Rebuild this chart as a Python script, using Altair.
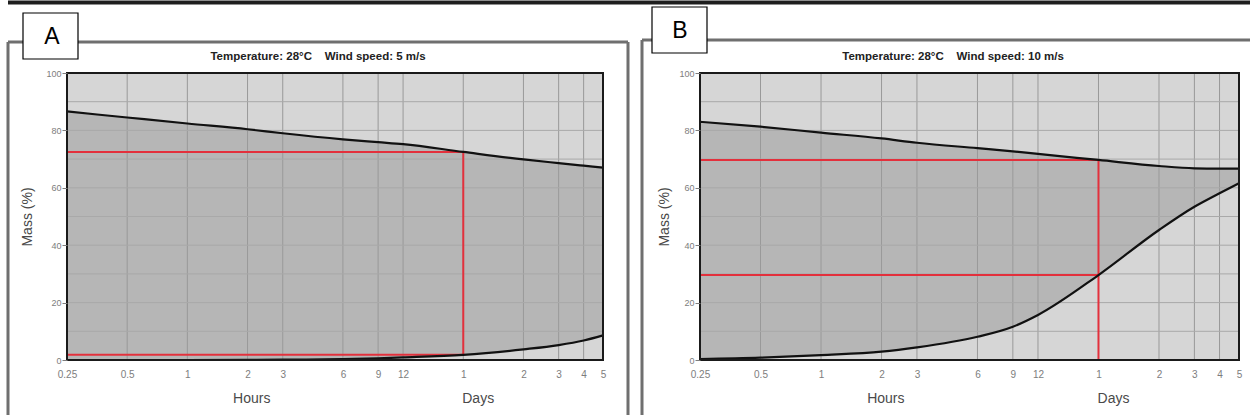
import altair as alt
import pandas as pd

# ---------------- data ----------------
time_h = [0.25, 0.5, 1, 2, 3, 6, 9, 12, 24, 48, 72, 96, 120]
a_upper = [86.6, 84.5, 82.4, 80.4, 79.0, 76.9, 75.9, 75.2, 72.5, 69.9, 68.6, 67.7, 67.0]
a_lower = [0.0, 0.0, 0.0, 0.05, 0.1, 0.3, 0.6, 0.9, 1.8, 3.7, 5.2, 6.8, 8.6]
b_upper = [83.0, 81.3, 79.2, 77.2, 75.7, 73.8, 72.7, 71.8, 69.7, 67.6, 66.8, 66.7, 66.7]
b_lower = [0.3, 0.8, 1.7, 2.9, 4.4, 8.1, 11.6, 15.7, 29.6, 45.3, 53.4, 58.1, 61.6]

x_tick_values = [0.25, 0.5, 1, 2, 3, 6, 9, 12, 24, 48, 72, 96, 120]
x_grid_values = [0.5, 1, 2, 3, 6, 9, 12, 24, 48, 72, 96]
y_tick_values = [0, 20, 40, 60, 80, 100]
y_grid_values = [10, 20, 30, 40, 50, 60, 70, 80, 90]

NB = "\u00a0"
a_title = "Temperature: 28°C" + NB * 4 + "Wind speed: 5 m/s"
b_title = "Temperature: 28°C" + NB * 4 + "Wind speed: 10 m/s"
panel_labels = ["A", "B"]
unit_labels = ["Hours", "Days"]
unit_label_time = [2.1, 28.5]
y_title = "Mass (%)"

read_time = 24
a_read_levels = [72.5, 1.8]
a_read_vertical = [1.8, 72.5]
b_read_levels = [69.7, 29.6]
b_read_vertical = [0.0, 69.7]

# ---------------- styling ----------------
FONT = "Liberation Sans Narrow, Arial Narrow, Liberation Sans, Arial, sans-serif"
LIGHT = "#d6d6d6"
DARK = "#b6b6b6"
RED = "#e3303c"
FRAME = "#6f6f6f"
H = 287

one = pd.DataFrame({"k": [0]})


def panel(upper, lower, levels, vrange, title, label, W, deco):
    df = pd.DataFrame({"t": time_h, "upper": upper, "lower": lower})
    xs = alt.Scale(type="log", domain=[0.25, 120], nice=False)
    ys = alt.Scale(domain=[0, 100], nice=False, zero=False)
    xaxis = alt.Axis(values=x_tick_values,
                     labelExpr="datum.value >= 24 ? format(datum.value / 24, 'd') : format(datum.value, '~g')",
                     ticks=False, domain=False, grid=False, labelFontSize=10,
                     labelColor="#7d7d7d", labelPadding=9, labelOverlap=False,
                     labelFlush=False, title=None, labelFont=FONT, zindex=1)
    yaxis = alt.Axis(values=y_tick_values, tickSize=5, tickColor="#7d7d7d",
                     domain=False, grid=False, labelFontSize=9, labelColor="#7d7d7d",
                     labelPadding=1, title=None, labelFont=FONT, zindex=1)

    def X(f):
        return alt.X(f, scale=xs, axis=xaxis)

    def Y(f):
        return alt.Y(f, scale=ys, axis=yaxis)

    layers = []
    if deco.get("canvas"):
        cx0, cy0, cx1, cy1 = deco["canvas"]
        layers.append(alt.Chart(one).mark_rect(fill="white", strokeWidth=0).encode(
            x=alt.value(cx0), x2=alt.value(cx1), y=alt.value(cy0), y2=alt.value(cy1)))
    # plot background
    layers.append(alt.Chart(one).mark_rect(fill=LIGHT, strokeWidth=0).encode(
        x=alt.value(0), x2=alt.value(W), y=alt.value(0), y2=alt.value(H)))
    # band between the two curves
    layers.append(alt.Chart(df).mark_area(color=DARK, interpolate="monotone").encode(
        x=X("t:Q"), y=Y("upper:Q"), y2="lower:Q"))
    # grid
    layers.append(alt.Chart(pd.DataFrame({"g": x_grid_values})).mark_rule(
        color="#999999", strokeWidth=1).encode(x=X("g:Q"), y=alt.value(0), y2=alt.value(H)))
    layers.append(alt.Chart(pd.DataFrame({"g": y_grid_values})).mark_rule(
        color="#a9a9a9", strokeWidth=1).encode(y=Y("g:Q"), x=alt.value(0), x2=alt.value(W)))
    # red reading lines
    layers.append(alt.Chart(pd.DataFrame({"t0": [0.25] * len(levels), "t1": [read_time] * len(levels),
                                          "lvl": levels})).mark_rule(color=RED, strokeWidth=2).encode(
        x=X("t0:Q"), x2="t1:Q", y=Y("lvl:Q")))
    layers.append(alt.Chart(pd.DataFrame({"t": [read_time], "lo": [vrange[0]], "hi": [vrange[1]]})).mark_rule(
        color=RED, strokeWidth=2).encode(x=X("t:Q"), y=Y("lo:Q"), y2="hi:Q"))
    # curves
    for col in ["upper", "lower"]:
        layers.append(alt.Chart(df).mark_line(color="#111111", strokeWidth=2.2, interpolate="monotone").encode(
            x=X("t:Q"), y=Y(col + ":Q")))
    # plot border
    layers.append(alt.Chart(one).mark_rect(fill="transparent", stroke="#1a1a1a", strokeWidth=2).encode(
        x=alt.value(0), x2=alt.value(W), y=alt.value(0), y2=alt.value(H)))
    # unit labels under the axis
    layers.append(alt.Chart(pd.DataFrame({"t": unit_label_time, "txt": unit_labels})).mark_text(
        font=FONT, fontSize=14, color="#4a4a4a", baseline="middle").encode(
        x=X("t:Q"), y=alt.value(H + 39), text="txt:N"))
    # y title
    layers.append(alt.Chart(pd.DataFrame({"txt": [y_title]})).mark_text(
        font=FONT, fontSize=14, color="#4a4a4a", angle=270, baseline="middle").encode(
        x=alt.value(deco["ytitle_x"]), y=alt.value(144), text="txt:N"))
    # panel title
    layers.append(alt.Chart(pd.DataFrame({"txt": [title]})).mark_text(
        font=FONT, fontSize=11.5, fontWeight="bold", color="#222222", baseline="middle").encode(
        x=alt.value(deco["title_x"]), y=alt.value(-16), text="txt:N"))
    # frame around the panel
    fx0, fy0, fx1, fy1 = deco["frame"]
    layers.append(alt.Chart(one).mark_rule(color=FRAME, strokeWidth=3).encode(
        x=alt.value(fx0), x2=alt.value(fx1), y=alt.value(fy0)))
    layers.append(alt.Chart(one).mark_rule(color=FRAME, strokeWidth=3).encode(
        x=alt.value(fx0), y=alt.value(fy0), y2=alt.value(fy1)))
    if deco.get("frame_right"):
        layers.append(alt.Chart(one).mark_rule(color=FRAME, strokeWidth=3).encode(
            x=alt.value(fx1), y=alt.value(fy0), y2=alt.value(fy1)))
    if deco.get("topline"):
        tx0, tx1, ty = deco["topline"]
        layers.append(alt.Chart(one).mark_rule(color="#1e1e1e", strokeWidth=4).encode(
            x=alt.value(tx0), x2=alt.value(tx1), y=alt.value(ty)))
    # label box
    bx0, by0, bx1, by1 = deco["box"]
    layers.append(alt.Chart(one).mark_rect(fill="white", stroke="black", strokeWidth=1.2).encode(
        x=alt.value(bx0), x2=alt.value(bx1), y=alt.value(by0), y2=alt.value(by1)))
    layers.append(alt.Chart(pd.DataFrame({"txt": [label]})).mark_text(
        font="Liberation Sans, Arial, sans-serif", fontSize=23, color="black", baseline="middle").encode(
        x=alt.value(deco["letter"][0]), y=alt.value(deco["letter"][1]), text="txt:N"))

    return alt.layer(*layers).properties(width=W, height=H)


WA, WB = 536, 539
deco_a = {
    "canvas": (-67, -73, 1186, 345),
    "frame": (-59, -31, 561, 342),
    "frame_right": True,
    "topline": (-59, 1183, -70.5),
    "box": (-44, -60, 11, -14),
    "letter": (-15, -36),
    "title_x": 251,
    "ytitle_x": -39,
}
deco_b = {
    "frame": (-58, -33, 550, 342),
    "frame_right": False,
    "box": (-48, -66, 7, -20),
    "letter": (-20, -42),
    "title_x": 253,
    "ytitle_x": -35,
}

pa = panel(a_upper, a_lower, a_read_levels, a_read_vertical, a_title, panel_labels[0], WA, deco_a)
pb = panel(b_upper, b_lower, b_read_levels, b_read_vertical, b_title, panel_labels[1], WB, deco_b)

chart = alt.hconcat(pa, pb, spacing=97, bounds="flush").properties(
    padding=0, autosize=alt.AutoSizeParams(type="pad")
).configure(background="white").configure_view(strokeWidth=0)

chart.save("out.html", embed_options={"renderer": "svg", "actions": False})
